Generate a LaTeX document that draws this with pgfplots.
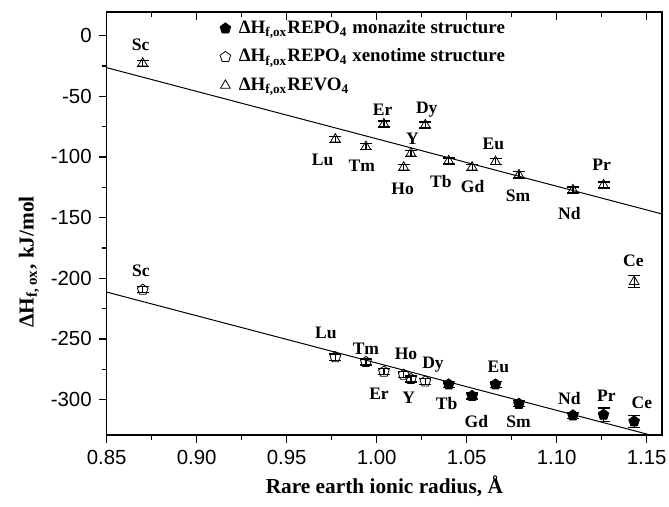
\documentclass[border=0pt]{standalone}
\usepackage{fontspec}
\setmainfont{Liberation Serif}
\setsansfont{Liberation Sans}
\usepackage{pgfplots}
\pgfplotsset{compat=1.18}
\usetikzlibrary{calc}

\newcommand\lab[3]{\node[font=\bfseries\fontsize{8.8}{10}\selectfont] at (axis cs:#1,#2) {#3};}

\begin{document}
\begin{tikzpicture}
\begin{axis}[
  name=ax,
  scale only axis, width=277.65bp, height=211.5bp,
  xmin=0.85, xmax=1.1585, ymin=-329.2, ymax=19.5,
  xtick={0.85,0.90,0.95,1.00,1.05,1.10,1.15},
  ytick={-300,-250,-200,-150,-100,-50,0},
  minor x tick num=1, minor y tick num=1,
  tick align=outside, xtick pos=left, ytick pos=left,
  major tick length=4bp, minor tick length=2.5bp,
  axis line style={line width=0.6bp},
  every tick/.style={black, line width=0.6bp},
  tick label style={font=\sffamily\fontsize{10.25}{12}\selectfont},
  /pgf/number format/assume math mode=true,
  xticklabel style={/pgf/number format/.cd, fixed, fixed zerofill, precision=2},
  yticklabel style={/pgf/number format/fixed},
  xlabel={\bfseries Rare earth ionic radius, Å},
  ylabel={\bfseries ΔH\textsubscript{f, ox}, kJ/mol},
  label style={font=\fontsize{10.7}{13}\selectfont},
  xlabel style={at={(axis description cs:0.5,-0.1206)}, anchor=center},
  ylabel style={at={(axis description cs:-0.14,0.409)}, anchor=center},
  legend style={at={(axis description cs:0.1943,0.988)}, anchor=north west,
    draw=none, fill=none, inner sep=0pt, row sep=3.25bp,
    font=\bfseries\fontsize{9.5}{11}\selectfont,
    nodes={inner sep=1bp, text height=7bp, text depth=2bp}},
  legend cell align=left,
  legend image code/.code={%
    \draw[mark repeat=2, mark phase=2, #1] plot coordinates {(0bp,0bp) (5bp,0bp) (10bp,0bp)};
    \path (0bp,0bp) (10.5bp,0bp);},
  error bars/error bar style={black, line width=0.6bp},
  error bars/error mark options={black, rotate=90, mark size=3bp, line width=0.6bp},
]

% monazite structure
\addplot[black, only marks, mark=pentagon*, mark size=2.8bp, mark options={fill=black},
  error bars/.cd, y dir=both, y explicit] coordinates {
  (1.040,-287.5) +- (0,2.5)
  (1.053,-297.0) +- (0,2.5)
  (1.066,-287.5) +- (0,2.5)
  (1.079,-303.5) +- (0,2.5)
  (1.109,-313.0) +- (0,2.5)
  (1.126,-312.5) +- (0,5.5)
  (1.143,-318.0) +- (0,5.0)
};
\addlegendentry{ΔH\textsubscript{f,ox}REPO\textsubscript{4} monazite structure}

% xenotime structure
\addplot[black, only marks, mark=pentagon, mark size=2.8bp, mark options={fill=white},
  error bars/.cd, y dir=both, y explicit] coordinates {
  (0.870,-209.5) +- (0,2.5)
  (0.977,-265.0) +- (0,2.5)
  (0.994,-269.0) +- (0,2.5)
  (1.004,-277.0) +- (0,2.5)
  (1.015,-279.5) +- (0,2.5)
  (1.019,-283.0) +- (0,2.5)
  (1.027,-285.0) +- (0,2.5)
};
\addlegendentry{ΔH\textsubscript{f,ox}REPO\textsubscript{4} xenotime structure}

% REVO4
\addplot[black, only marks, mark=triangle, mark size=2.8bp,
  error bars/.cd, y dir=both, y explicit] coordinates {
  (0.870,-22.8) +- (0,2.5)
  (0.977,-85.4) +- (0,2.5)
  (0.994,-91.5) +- (0,2.5)
  (1.004,-72.8) +- (0,2.5)
  (1.015,-108.5) +- (0,2.5)
  (1.019,-97.0) +- (0,2.5)
  (1.027,-73.6) +- (0,2.5)
  (1.040,-103.3) +- (0,2.5)
  (1.053,-108.5) +- (0,2.5)
  (1.066,-103.9) +- (0,2.5)
  (1.079,-114.8) +- (0,2.5)
  (1.109,-127.2) +- (0,2.5)
  (1.126,-123.1) +- (0,2.5)
  (1.143,-202.8) +- (0,5.0)
};
\addlegendentry{ΔH\textsubscript{f,ox}REVO\textsubscript{4}}

% fitted lines
\addplot[black, line width=0.5bp, forget plot] coordinates {(0.85,-26.4) (1.1585,-147.0)};
\addplot[black, line width=0.5bp, forget plot] coordinates {(0.85,-211.4) (1.158,-331.5)};

% labels, vanadates
\lab{0.8689}{-7.7}{Sc}
\lab{0.970}{-102.5}{Lu}
\lab{0.9917}{-107.4}{Tm}
\lab{1.0033}{-60.7}{Er}
\lab{1.0278}{-60.7}{Dy}
\lab{1.0198}{-85.4}{Y}
\lab{1.0144}{-126.6}{Ho}
\lab{1.0356}{-120.4}{Tb}
\lab{1.0533}{-124.5}{Gd}
\lab{1.0648}{-89.3}{Eu}
\lab{1.0785}{-131.7}{Sm}
\lab{1.107}{-146.4}{Nd}
\lab{1.125}{-106.6}{Pr}
\lab{1.1426}{-185.7}{Ce}
% labels, phosphates
\lab{0.869}{-194}{Sc}
\lab{0.9718}{-245.1}{Lu}
\lab{0.994}{-258.5}{Tm}
\lab{1.0163}{-262.7}{Ho}
\lab{1.0313}{-271.5}{Dy}
\lab{1.0013}{-295.3}{Er}
\lab{1.0178}{-298.8}{Y}
\lab{1.0388}{-303.6}{Tb}
\lab{1.0554}{-318.4}{Gd}
\lab{1.0676}{-273.0}{Eu}
\lab{1.0788}{-318.4}{Sm}
\lab{1.107}{-299.4}{Nd}
\lab{1.1276}{-296.6}{Pr}
\lab{1.1473}{-302.8}{Ce}
\end{axis}

% inward ticks on the top edge
\begin{axis}[
  scale only axis, width=277.65bp, height=211.5bp,
  at={(ax.south west)}, anchor=south west,
  xmin=0.85, xmax=1.1585, ymin=-329.2, ymax=19.5,
  axis x line*=top, axis y line=none,
  xtick={0.85,0.90,0.95,1.00,1.05,1.10,1.15}, minor x tick num=1,
  xticklabels={}, tick align=inside,
  major tick length=4bp, minor tick length=2.5bp,
  axis line style={line width=0.6bp},
  every tick/.style={black, line width=0.6bp},
]
\end{axis}

\pgfresetboundingbox
\path[use as bounding box] ($(ax.south west)+(-53.35bp,-36bp)$) rectangle ($(ax.north east)+(3.5bp,6bp)$);
\end{tikzpicture}
\end{document}
